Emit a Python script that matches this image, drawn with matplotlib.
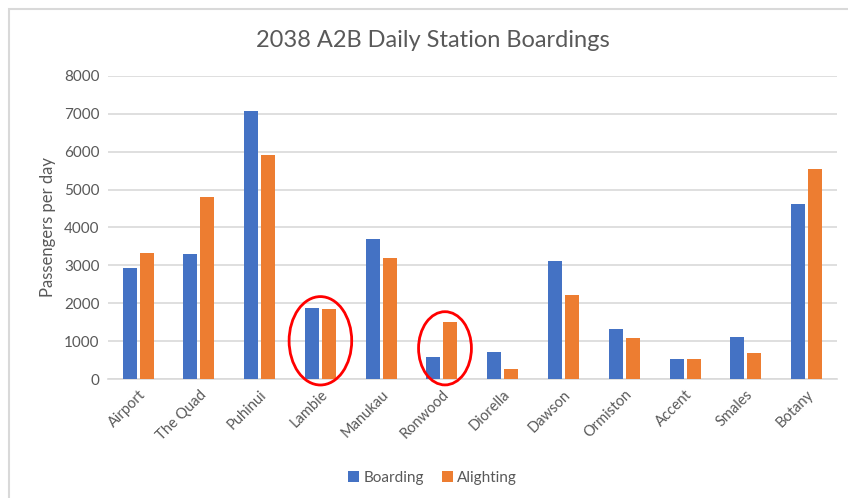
import numpy as np
import matplotlib
matplotlib.use('Agg')
import matplotlib.pyplot as plt
from matplotlib.patches import Ellipse, Rectangle

# STATION DATA
# ------------
stations = ['Airport', 'The Quad', 'Puhinui', 'Lambie', 'Manukau', 'Ronwood',
            'Diorella', 'Dawson', 'Ormiston', 'Accent', 'Smales', 'Botany']
boarding = [2940, 3300, 7080, 1890, 3700, 590, 730, 3120, 1335, 535, 1110, 4620]
alighting = [3320, 4810, 5920, 1845, 3190, 1520, 260, 2220, 1080, 535, 685, 5550]
yticks = [0, 1000, 2000, 3000, 4000, 5000, 6000, 7000, 8000]
# stations flagged on the chart
flagged = ['Lambie', 'Ronwood']
# ------------

plt.rcParams['font.family'] = ['Lato', 'DejaVu Sans']
grey = '#595959'

fig = plt.figure(figsize=(8.48, 4.98), dpi=100)
ax = fig.add_axes([0.127, 0.2385, 0.86, 0.6095])

x = np.arange(len(stations))
w = 0.23
ax.bar(x - 0.14, boarding, w, color='#4472C4', label='Boarding', zorder=3)
ax.bar(x + 0.14, alighting, w, color='#ED7D31', label='Alighting', zorder=3)

ax.set_xlim(-0.5, len(stations) - 0.5)
ax.set_ylim(0, 8000)
ax.set_yticks(yticks)
ax.set_yticklabels([str(v) for v in yticks], color=grey, fontsize=11)
ax.set_xticks(x)
ax.set_xticklabels(stations, rotation=45, ha='right', rotation_mode='anchor',
                   color=grey, fontsize=10.5)
ax.tick_params(length=0, pad=6)
ax.grid(axis='y', color='#D9D9D9', lw=1.2, zorder=0)
for s in ['top', 'right', 'left']:
    ax.spines[s].set_visible(False)
ax.spines['bottom'].set_color('#D9D9D9')
ax.spines['bottom'].set_linewidth(1.2)
ax.set_ylabel('Passengers per day', color=grey, fontsize=12, labelpad=6)

# red rings round the flagged stations
rings = {'Lambie': (0.0, 1013, 1.03, 2330), 'Ronwood': (0.05, 815, 0.87, 1930)}
for name in flagged:
    dx, cy, ew, eh = rings[name]
    ax.add_patch(Ellipse((stations.index(name) + dx, cy), ew, eh, fill=False,
                         edgecolor='#FF0000', lw=2, clip_on=False, zorder=4))

fig.text(0.51, 0.918, '2038 A2B Daily Station Boardings', ha='center',
         va='center', fontsize=17, color=grey)

fig.legend(loc='center', bbox_to_anchor=(0.51, 0.04), ncol=2, frameon=False,
           fontsize=11, labelcolor=grey, handlelength=0.7, handleheight=0.7,
           handletextpad=0.3, columnspacing=1.2)

# chart area border
fig.patches.append(Rectangle((9 / 848, -0.1), 1.2, 0.1 + (498 - 9) / 498,
                             transform=fig.transFigure, fill=False,
                             edgecolor='#D9D9D9', lw=1.5))

fig.savefig('out.png', dpi=100)
